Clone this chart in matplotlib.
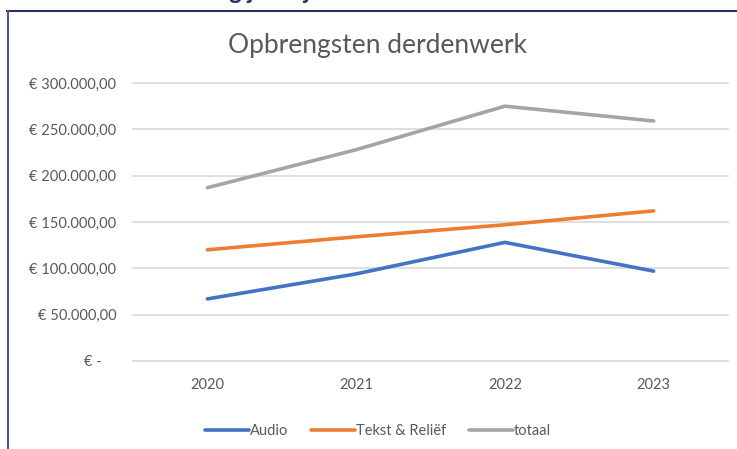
import matplotlib
matplotlib.use("Agg")
import matplotlib.pyplot as plt
from matplotlib.lines import Line2D
from matplotlib.ticker import FuncFormatter

# data
years = ["2020", "2021", "2022", "2023"]
audio = [67000, 94000, 128000, 97000]
tekst = [120000, 134000, 147000, 162000]
totaal = [187000, 228000, 275000, 259000]

plt.rcParams['font.family'] = ['Lato', 'DejaVu Sans']

fig = plt.figure(figsize=(7.37, 4.49), dpi=100)
W, H = 737, 449

# frame of the surrounding page (top and left border)
navy = '#26325f'
fig.add_artist(Line2D([7 / W, 1], [1 - 11 / H, 1 - 11 / H], color=navy, lw=1.5))
fig.add_artist(Line2D([8 / W, 8 / W], [0, 1 - 11 / H], color='#4e5a86', lw=1.5))

# heading of the page, cut off at the top edge (only descenders show)
fig.text(100 / W, 1 + 1 / H, "Ontwikkeling jaarcijfers", color=navy, fontsize=17,
         fontweight='bold', ha='left', va='baseline')

ax = fig.add_axes([133 / W, 88 / H, (728 - 133) / W, (366 - 88) / H])
x = range(len(years))
ax.plot(x, audio, color='#4472C4', lw=2.6, label='Audio', solid_capstyle='round')
ax.plot(x, tekst, color='#ED7D31', lw=2.6, label='Tekst & Reliëf', solid_capstyle='round')
ax.plot(x, totaal, color='#A5A5A5', lw=2.6, label='totaal', solid_capstyle='round')

ax.set_xlim(-0.5, 3.5)
ax.set_ylim(0, 300000)
ax.set_yticks(range(0, 300001, 50000))
ax.set_xticks(list(x))
ax.set_xticklabels(years)


def euro(v, pos):
    if v == 0:
        return "€ -    "
    s = f"{v:,.2f}".replace(",", "X").replace(".", ",").replace("X", ".")
    return "€ " + s


ax.yaxis.set_major_formatter(FuncFormatter(euro))
ax.grid(axis='y', color='#d9d9d9', lw=1.2, clip_on=False)
ax.set_axisbelow(True)
for sp in ax.spines.values():
    sp.set_visible(False)
ax.tick_params(length=0, colors='#595959', labelsize=10.5)
ax.tick_params(axis='y', pad=12)
ax.tick_params(axis='x', pad=12)

fig.text(378 / W, 1 - 45 / H, "Opbrengsten derdenwerk", color='#595959',
         fontsize=19, ha='center', va='center')

handles, labels = ax.get_legend_handles_labels()
fig.legend(handles, labels, loc='center', bbox_to_anchor=(378 / W, 1 - 431 / H),
           ncol=3, frameon=False, fontsize=10.5, handlelength=3.0,
           handletextpad=0.05, columnspacing=1.6, labelcolor='#595959')

fig.savefig("out.png", dpi=100, facecolor='white')
